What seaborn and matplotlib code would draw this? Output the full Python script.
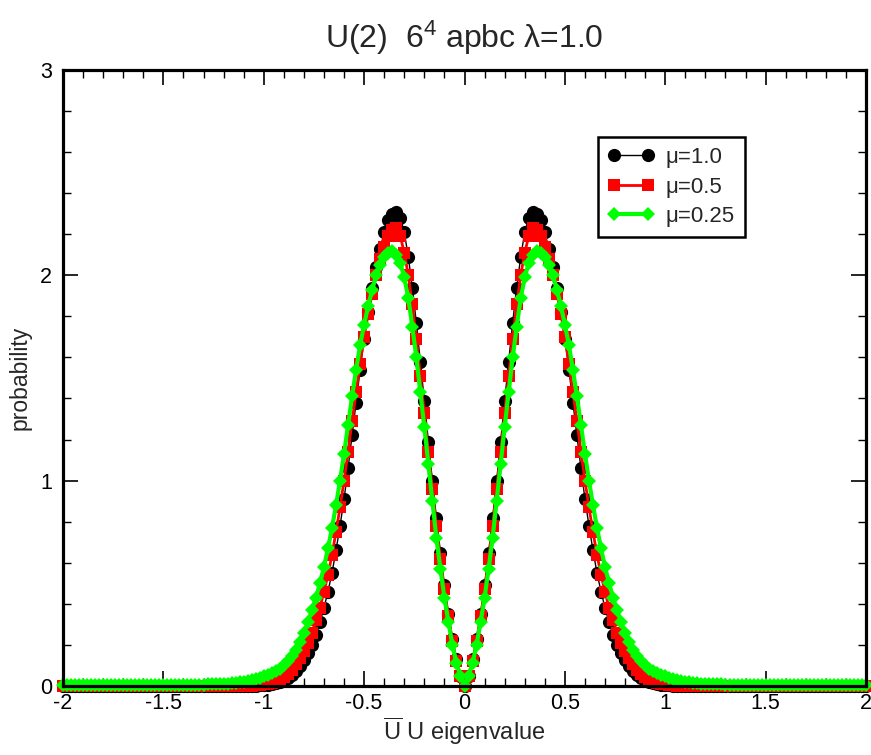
import numpy as np
import pandas as pd
import matplotlib
matplotlib.use("Agg")
import matplotlib.pyplot as plt
import seaborn as sns
from matplotlib.ticker import MultipleLocator, FuncFormatter

# ---------------- data ----------------
eigenvalue = np.round(np.linspace(-2.0, 2.0, 201), 2)

# mu = 1.0 (black circles)
p_mu100_neg = [0.0] * 47 + [
    0.001, 0.002, 0.003, 0.004, 0.006, 0.009, 0.014, 0.020, 0.029, 0.040,
    0.054, 0.072, 0.095, 0.125, 0.16, 0.20, 0.25, 0.31, 0.38, 0.46,
    0.55, 0.66, 0.78, 0.91, 1.06, 1.22, 1.38, 1.54, 1.69, 1.82,
    1.94, 2.04, 2.13, 2.21, 2.27, 2.30, 2.31, 2.28, 2.21, 2.09,
    1.94, 1.77, 1.58, 1.39, 1.19, 1.00, 0.82, 0.65, 0.49, 0.35,
    0.23, 0.13, 0.05]
p_mu100_pos = [
    0.00, 0.05, 0.13, 0.23, 0.35, 0.49, 0.65, 0.82, 1.00, 1.19,
    1.39, 1.58, 1.77, 1.94, 2.09, 2.21, 2.28, 2.31, 2.30, 2.27,
    2.21, 2.13, 2.04, 1.94, 1.82, 1.69, 1.54, 1.38, 1.22, 1.06,
    0.91, 0.78, 0.66, 0.55, 0.46, 0.38, 0.31, 0.25, 0.20, 0.16,
    0.125, 0.095, 0.072, 0.054, 0.040, 0.029, 0.020, 0.014, 0.009, 0.006,
    0.004, 0.003, 0.002, 0.001] + [0.0] * 47

# mu = 0.5 (red squares)
p_mu050_neg = [0.0] * 46 + [
    0.001, 0.002, 0.003, 0.005, 0.008, 0.012, 0.017, 0.024, 0.033, 0.045,
    0.060, 0.080, 0.105, 0.135, 0.17, 0.21, 0.26, 0.32, 0.38, 0.46,
    0.54, 0.64, 0.75, 0.87, 1.00, 1.14, 1.29, 1.43, 1.57, 1.70,
    1.81, 1.91, 2.00, 2.08, 2.14, 2.19, 2.22, 2.23, 2.19, 2.11,
    2.00, 1.86, 1.69, 1.51, 1.33, 1.14, 0.96, 0.78, 0.62, 0.47,
    0.34, 0.22, 0.12, 0.05]
p_mu050_pos = [
    0.00, 0.05, 0.12, 0.22, 0.34, 0.47, 0.62, 0.78, 0.96, 1.14,
    1.33, 1.51, 1.69, 1.86, 2.00, 2.11, 2.19, 2.23, 2.22, 2.19,
    2.14, 2.08, 2.00, 1.91, 1.81, 1.70, 1.57, 1.43, 1.29, 1.14,
    1.00, 0.87, 0.75, 0.64, 0.54, 0.46, 0.38, 0.32, 0.26, 0.21,
    0.17, 0.135, 0.105, 0.080, 0.060, 0.045, 0.033, 0.024, 0.017, 0.012,
    0.008, 0.005, 0.003, 0.002, 0.001] + [0.0] * 46

# mu = 0.25 (green diamonds)
p_mu025_neg = [0.006] * 20 + [0.007] * 16 + [
    0.008, 0.008, 0.009, 0.009, 0.010, 0.011, 0.013, 0.015, 0.018, 0.021,
    0.025, 0.030, 0.035, 0.041, 0.048, 0.055, 0.063, 0.073, 0.085, 0.100,
    0.120, 0.145, 0.175, 0.215, 0.26, 0.31, 0.37, 0.43, 0.50, 0.58,
    0.67, 0.77, 0.88, 1.00, 1.13, 1.27, 1.41, 1.54, 1.66, 1.76,
    1.85, 1.93, 2.00, 2.05, 2.09, 2.11, 2.12, 2.10, 2.06, 1.99,
    1.89, 1.75, 1.60, 1.43, 1.26, 1.08, 0.90, 0.72, 0.57, 0.43,
    0.31, 0.20, 0.11, 0.05]
p_mu025_pos = [
    0.00, 0.05, 0.11, 0.20, 0.31, 0.43, 0.57, 0.72, 0.90, 1.08,
    1.26, 1.43, 1.60, 1.75, 1.89, 1.99, 2.06, 2.10, 2.12, 2.11,
    2.09, 2.05, 2.00, 1.93, 1.85, 1.76, 1.66, 1.54, 1.41, 1.27,
    1.13, 1.00, 0.88, 0.77, 0.67, 0.58, 0.50, 0.43, 0.37, 0.31,
    0.26, 0.215, 0.175, 0.145, 0.120, 0.100, 0.085, 0.073, 0.063, 0.055,
    0.048, 0.041, 0.035, 0.030, 0.025, 0.021, 0.018, 0.015, 0.013, 0.011,
    0.010, 0.009, 0.009, 0.008, 0.008] + [0.007] * 16 + [0.006] * 20

p_mu100 = p_mu100_neg + p_mu100_pos
p_mu050 = p_mu050_neg + p_mu050_pos
p_mu025 = p_mu025_neg + p_mu025_pos

series_labels = ["\u03bc=1.0", "\u03bc=0.5", "\u03bc=0.25"]

# ---------------- style ----------------
sns.set_theme(style="ticks")
plt.rcParams["font.family"] = ["Liberation Sans", "DejaVu Sans"]
plt.rcParams["mathtext.fontset"] = "custom"
plt.rcParams["mathtext.rm"] = "Liberation Sans"
plt.rcParams["mathtext.it"] = "Liberation Sans:italic"

fig = plt.figure(figsize=(8.71, 7.55), dpi=100)
ax = fig.add_axes([0.0723, 0.0914, 0.9220, 0.8160])

df = pd.DataFrame({"x": eigenvalue, "a": p_mu100, "b": p_mu050, "c": p_mu025})

styles = [
    ("a", series_labels[0], "black", "o", 9.5, 1.0),
    ("b", series_labels[1], "#ff0000", "s", 8.5, 2.0),
    ("c", series_labels[2], "#00ff00", "D", 7.5, 3.0),
]
for col, lab, colr, mk, ms, lw in styles:
    sns.lineplot(data=df, x="x", y=col, ax=ax, color=colr, marker=mk,
                 markersize=ms, markeredgecolor=colr, markeredgewidth=0,
                 linewidth=lw, label=lab, estimator=None, sort=False,
                 clip_on=False)

ax.set_xlim(-2, 2)
ax.set_ylim(0, 3)
ax.xaxis.set_major_locator(MultipleLocator(0.5))
ax.xaxis.set_minor_locator(MultipleLocator(0.1))
ax.yaxis.set_major_locator(MultipleLocator(1))
ax.yaxis.set_minor_locator(MultipleLocator(0.2))
ax.xaxis.set_major_formatter(FuncFormatter(lambda v, p: f"{v:g}"))
ax.yaxis.set_major_formatter(FuncFormatter(lambda v, p: f"{v:g}"))
ax.tick_params(which="both", direction="in", top=True, right=True,
               colors="black", labelsize=15.5)
ax.tick_params(which="major", length=11, width=1.2, pad=5)
ax.tick_params(which="minor", length=6, width=1.0)
ax.tick_params(axis="y", which="major", pad=8)
for sp in ax.spines.values():
    sp.set_visible(True)
    sp.set_linewidth(2.3)
    sp.set_color("black")
    sp.set_zorder(5)

ax.set_xlabel(r"$\overline{\mathrm{U}}$ U eigenvalue", fontsize=17, labelpad=1)
ax.set_ylabel("probability", fontsize=16.5, labelpad=6)
ax.set_title("U(2)  6$^{4}$ apbc \u03bb=1.0", fontsize=23, pad=16)

leg = ax.legend(loc="upper left", bbox_to_anchor=(0.666, 0.891), frameon=True,
                fancybox=False, framealpha=1, edgecolor="black", fontsize=16,
                numpoints=2, handlelength=2.1, handletextpad=0.5,
                borderpad=0.45, labelspacing=0.38, borderaxespad=0)
leg.get_frame().set_linewidth(1.8)

fig.savefig("out.png", dpi=100)
